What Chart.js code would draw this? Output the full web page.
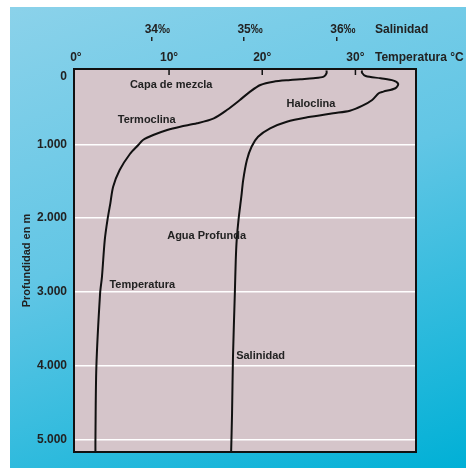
<!DOCTYPE html>
<html>
<head>
<meta charset="utf-8">
<script src="https://cdn.jsdelivr.net/npm/chart.js@4"></script>
<style>
  html, body { margin: 0; padding: 0; background: #fff; }
  #panel {
    position: absolute; left: 10px; top: 7px; width: 456px; height: 461px;
    background: linear-gradient(160deg, #8bd2ea 0%, #62c6e5 45%, #00b0d6 100%);
  }
  canvas { display: block; }
</style>
</head>
<body>
<div id="panel"><canvas id="chart" width="456" height="461"></canvas></div>
<script>
const depthTicks = [0, 1000, 2000, 3000, 4000, 5000];
const tempTicks = [0, 10, 20, 30];
const salinityTicks = [34, 35, 36];

// temperature profile (°C) against depth (m)
const tempDepths = [0, 38, 84, 106, 119, 129, 152, 197, 287, 400, 536, 648, 716, 762, 807, 875, 942, 1010, 1132, 1349, 1576, 1801, 2018, 2298, 2796, 3021, 4016, 5010, 5170];
const temperatures = [26.9, 26.9, 26.6, 25.5, 24.1, 23.0, 21.2, 19.8, 18.7, 17.6, 16.2, 14.8, 13.0, 11.2, 9.8, 8.3, 7.2, 6.7, 5.8, 4.7, 4.0, 3.7, 3.4, 3.1, 2.8, 2.6, 2.2, 2.1, 2.1];

// salinity profile (‰) against depth (m)
const salinityDepths = [0, 30, 75, 106, 138, 183, 241, 287, 309, 400, 481, 545, 580, 635, 694, 784, 898, 1033, 1214, 1485, 1711, 2018, 2298, 2569, 3021, 3881, 4648, 5170];
const salinities = [36.27, 36.27, 36.31, 36.47, 36.61, 36.66, 36.63, 36.50, 36.45, 36.38, 36.27, 36.14, 35.96, 35.68, 35.46, 35.28, 35.15, 35.08, 35.03, 34.99, 34.97, 34.94, 34.92, 34.91, 34.90, 34.88, 34.87, 34.86];

// labels inside the plot, placed in (temperature, depth)
const notes = [
  { text: "Capa de mezcla", t: 5.8, d: 193 },
  { text: "Termoclina", t: 4.5, d: 671 },
  { text: "Haloclina", t: 22.6, d: 458 },
  { text: "Agua Profunda", t: 9.8, d: 2244 },
  { text: "Temperatura", t: 3.6, d: 2908 },
  { text: "Salinidad", t: 17.2, d: 3871 },
];

const FONT = "'Liberation Sans', Arial, sans-serif";
const INK = "#222";

// "0" sits a little below the top edge in the original, so give it an empty first line
const fmtDepth = (v) => (v === 0 ? ["", "0"] : v / 1000 + ".000");

// fixed axis boxes so the plot area lands where the original has it
const fixBox = (size) => (s) => {
  if (s.isHorizontal()) s.height = size; else s.width = size;
  s.paddingTop = s.paddingBottom = s.paddingLeft = s.paddingRight = 0;
};

const oceanPlot = {
  id: "oceanPlot",
  beforeDraw(chart) {
    const { ctx, chartArea: a } = chart;
    ctx.save();
    ctx.fillStyle = "#d5c5ca";
    ctx.fillRect(a.left, a.top, a.width, a.height);
    ctx.restore();
  },
  afterDatasetsDraw(chart) {
    const { ctx, chartArea: a, scales } = chart;
    const x = scales.x;
    const y = scales.y;
    ctx.save();

    // frame
    ctx.strokeStyle = "#111";
    ctx.lineWidth = 2;
    ctx.strokeRect(a.left, a.top, a.width, a.height);

    // inner temperature ticks on the top edge
    ctx.lineWidth = 1.5;
    tempTicks.forEach((v) => {
      if (v <= x.min + 1) return;
      const px = x.getPixelForValue(v);
      ctx.beginPath();
      ctx.moveTo(px, a.top);
      ctx.lineTo(px, a.top + 6);
      ctx.stroke();
    });

    // axis names to the right of the top tick rows
    ctx.fillStyle = INK;
    ctx.font = "bold 12px " + FONT;
    ctx.textAlign = "left";
    ctx.textBaseline = "middle";
    ctx.fillText("Temperatura °C", a.right - 41, x.bottom - 4 - 7.2);
    ctx.fillText("Salinidad", a.right - 41, scales.sal.bottom - 4 - 7.2);

    // curve annotations
    ctx.font = "bold 11px " + FONT;
    notes.forEach((n) => {
      ctx.fillText(n.text, x.getPixelForValue(n.t), y.getPixelForValue(n.d));
    });
    ctx.restore();
  },
};

const tickFont = { family: FONT, size: 12, weight: "bold" };

new Chart(document.getElementById("chart"), {
  type: "scatter",
  data: {
    datasets: [
      {
        label: "Temperatura",
        data: tempDepths.map((d, i) => ({ x: temperatures[i], y: d })),
        xAxisID: "x",
        yAxisID: "y",
      },
      {
        label: "Salinidad",
        data: salinityDepths.map((d, i) => ({ x: salinities[i], y: d })),
        xAxisID: "sal",
        yAxisID: "y",
      },
    ],
  },
  options: {
    responsive: false,
    animation: false,
    layout: { padding: { left: 0, top: 0, right: 50, bottom: 16 } },
    elements: {
      line: { borderColor: "#111", borderWidth: 2, tension: 0.3 },
      point: { radius: 0, hoverRadius: 0 },
    },
    datasets: { scatter: { showLine: true } },
    plugins: {
      legend: { display: false },
      tooltip: { enabled: false },
    },
    scales: {
      x: {
        type: "linear",
        position: "top",
        min: -0.2,
        max: 36.5,
        weight: 0,
        afterBuildTicks: (s) => { s.ticks = tempTicks.map((v) => ({ value: v })); },
        afterFit: fixBox(28),
        grid: { display: false, drawTicks: false },
        border: { display: false },
        ticks: {
          padding: 4,
          color: INK,
          font: tickFont,
          maxRotation: 0,
          autoSkip: false,
          callback: (v) => v + "°",
        },
      },
      sal: {
        type: "linear",
        position: "top",
        min: 33.167,
        max: 36.852,
        weight: 1,
        afterBuildTicks: (s) => { s.ticks = salinityTicks.map((v) => ({ value: v })); },
        afterFit: fixBox(34),
        grid: {
          display: true,
          drawOnChartArea: false,
          drawTicks: true,
          tickLength: 4,
          color: INK,
          lineWidth: 1.5,
        },
        border: { display: false },
        ticks: {
          padding: 0,
          labelOffset: 6,
          color: INK,
          font: tickFont,
          maxRotation: 0,
          autoSkip: false,
          callback: (v) => v + "‰",
        },
      },
      y: {
        type: "linear",
        position: "left",
        reverse: true,
        min: -20,
        max: 5170,
        afterBuildTicks: (s) => { s.ticks = depthTicks.map((v) => ({ value: v })); },
        afterFit: fixBox(64),
        grid: {
          color: (c) => (c.tick && c.tick.value === 0 ? "rgba(0,0,0,0)" : "#ffffff"),
          lineWidth: 1.5,
          drawTicks: false,
        },
        border: { display: false },
        ticks: {
          padding: 7,
          color: INK,
          font: { family: FONT, size: 12, weight: "bold", lineHeight: 1.0 },
          callback: fmtDepth,
        },
        title: {
          display: true,
          text: "Profundidad en m",
          color: INK,
          font: { family: FONT, size: 11, weight: "bold" },
          padding: { top: 10, bottom: 0 },
        },
      },
    },
  },
  plugins: [oceanPlot],
});
</script>
</body>
</html>
